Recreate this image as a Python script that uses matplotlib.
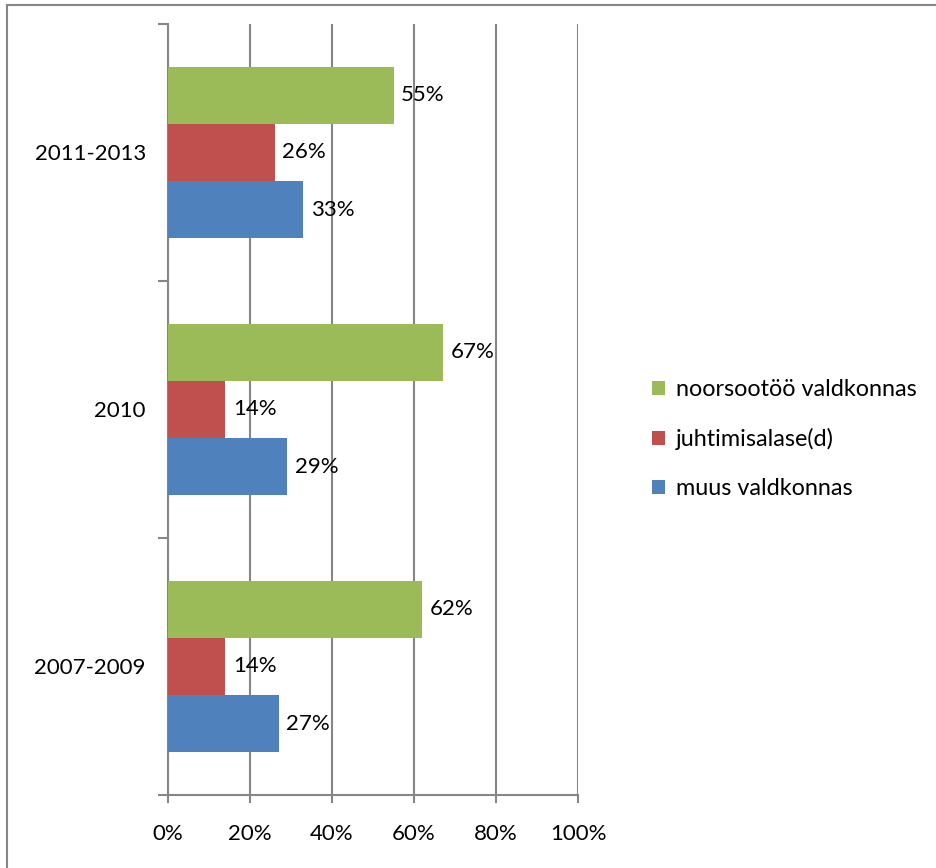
import matplotlib
matplotlib.use("Agg")
import matplotlib.pyplot as plt
from matplotlib.patches import Rectangle
from matplotlib.ticker import FixedLocator
import numpy as np

plt.rcParams['font.family'] = ['Lato', 'DejaVu Sans']

categories = ["2007-2009", "2010", "2011-2013"]
series_names = ["muus valdkonnas", "juhtimisalase(d)", "noorsootöö valdkonnas"]
muus = [27, 29, 33]
juht = [14, 14, 26]
noor = [62, 67, 55]
values = [muus, juht, noor]
colors = ["#4F81BD", "#C0504D", "#9BBB59"]
xticks = [0, 20, 40, 60, 80, 100]
xticklabels = ["0%", "20%", "40%", "60%", "80%", "100%"]

fig = plt.figure(figsize=(9.36, 8.68), dpi=100)
ax = fig.add_axes([168/936, 1-795/868, 410/936, 771/868])

gray = "#868686"
fs = 16
bh = 0.222
y = np.arange(len(categories))
offsets = [-bh, 0, bh]
handles = []
for vals, name, col, off in zip(values, series_names, colors, offsets):
    bars = ax.barh(y + off, vals, height=bh, color=col, label=name, zorder=3)
    handles.append(bars)
    for yy, v in zip(y + off, vals):
        ax.text(v + 1.9, yy, f"{v}%", va="center", ha="left", fontsize=fs, zorder=4)

ax.set_xlim(0, 100)
ax.set_ylim(-0.5, 2.5)
ax.set_xticks(xticks)
ax.set_xticklabels(xticklabels, fontsize=fs)
ax.set_yticks(y)
ax.set_yticklabels(categories, fontsize=fs)
ax.yaxis.set_minor_locator(FixedLocator([-0.5, 0.5, 1.5, 2.5]))
ax.tick_params(axis='y', which='major', length=0, pad=16)
ax.tick_params(axis='y', which='minor', length=7, width=1.5, color=gray, direction='out')
ax.tick_params(axis='x', which='major', length=6, width=1.5, color=gray, direction='out', pad=15)
ax.xaxis.grid(True, color=gray, linewidth=1.5, zorder=0)
ax.set_axisbelow(True)
for s in ["top", "right"]:
    ax.spines[s].set_visible(False)
for s in ["left", "bottom"]:
    ax.spines[s].set_color(gray)
    ax.spines[s].set_linewidth(1.5)

leg_h = [handles[2], handles[1], handles[0]]
leg = fig.legend(leg_h, [series_names[2], series_names[1], series_names[0]],
                 loc="center left", bbox_to_anchor=(631/936, 1-439/868),
                 frameon=False, fontsize=16.8, handlelength=0.56, handleheight=0.56,
                 handletextpad=0.45, labelspacing=1.2)

fig.patches.append(Rectangle((7/936, -0.01), 1.0, 1 - 5/868 + 0.01, transform=fig.transFigure,
                             fill=False, edgecolor=gray, linewidth=1.5))

fig.savefig("out.png", dpi=100)
